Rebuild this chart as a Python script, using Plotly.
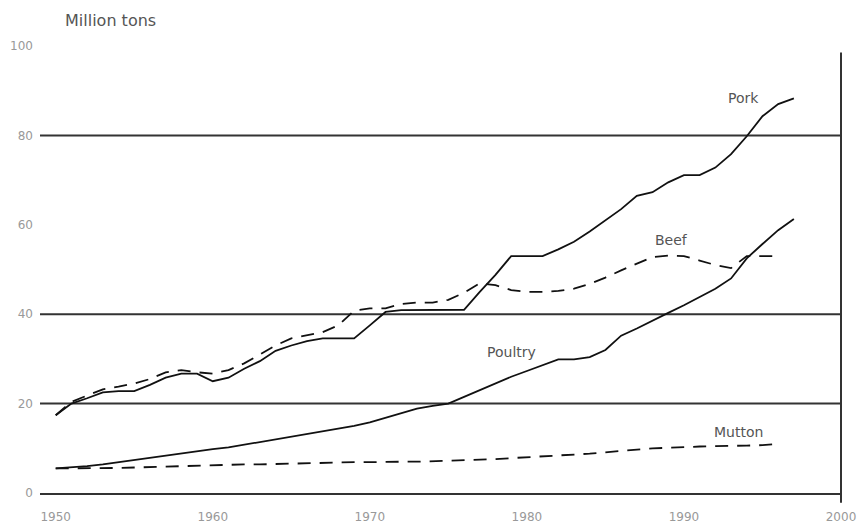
import plotly.graph_objects as go

years = list(range(1950, 1998))
years_short = list(range(1950, 1997))

pork = [17.4, 20.0, 21.2, 22.5, 22.8, 22.8, 24.2, 25.8, 26.7, 26.7,
        25.0, 25.8, 27.8, 29.5, 31.8, 33.0, 34.0, 34.6, 34.6, 34.6,
        37.5, 40.5, 40.9, 40.9, 40.9, 40.9, 41.0, 45.0, 48.8, 53.0,
        53.0, 53.0, 54.5, 56.2, 58.5, 61.0, 63.5, 66.5, 67.3, 69.5,
        71.1, 71.1, 72.8, 75.8, 79.8, 84.3, 87.0, 88.3]

beef = [17.4, 20.4, 21.8, 23.2, 23.8, 24.5, 25.5, 27.0, 27.5, 27.0,
        26.7, 27.5, 29.0, 31.0, 33.0, 34.6, 35.3, 36.0, 37.5, 40.8,
        41.3, 41.3, 42.3, 42.6, 42.6, 43.2, 44.8, 46.9, 46.5, 45.4,
        45.0, 45.0, 45.2, 45.7, 46.8, 48.2, 49.8, 51.3, 52.8, 53.1,
        53.0, 52.0, 51.0, 50.3, 53.0, 53.0, 53.0]

poultry = [5.5, 5.7, 6.0, 6.4, 6.9, 7.4, 7.9, 8.4, 8.9, 9.4,
           9.8, 10.2, 10.8, 11.4, 12.0, 12.5, 13.1, 13.7, 14.3, 15.0,
           15.8, 16.8, 17.8, 18.9, 19.5, 20.0, 21.5, 23.0, 24.5, 26.0,
           27.3, 28.6, 29.9, 29.9, 30.4, 32.0, 35.2, 36.8, 38.6, 40.3,
           42.0, 43.8, 45.7, 48.0, 52.5, 55.7, 58.8, 61.3]

mutton = [5.5, 5.5, 5.5, 5.6, 5.6, 5.7, 5.8, 6.0, 6.1, 6.2,
          6.3, 6.3, 6.4, 6.4, 6.5, 6.5, 6.6, 6.7, 6.8, 6.9,
          6.9, 7.0, 7.0, 7.0, 7.1, 7.2, 7.3, 7.4, 7.6, 7.8,
          8.0, 8.2, 8.3, 8.5, 8.8, 9.1, 9.4, 9.7, 10.0, 10.1,
          10.3, 10.4, 10.5, 10.5, 10.6, 10.7, 11.0]

y_ticks = [0, 20, 40, 60, 80, 100]
y_tick_labels = ["0", "20", "40", "60", "80", "100"]
x_ticks = [1950, 1960, 1970, 1980, 1990, 2000]
x_tick_labels = ["1950", "1960", "1970", "1980", "1990", "2000"]
grid_values = [20, 40, 80]

series_labels = ["Pork", "Beef", "Poultry", "Mutton"]
label_x = [1993.8, 1989.2, 1979.05, 1993.45]
label_y = [88.3, 56.5, 31.5, 13.6]

FONT = "DejaVu Sans"
DASH = "13px,9px"

fig = go.Figure()
fig.add_trace(go.Scatter(x=years, y=pork, mode="lines",
                         line=dict(color="#111111", width=1.8), name="Pork"))
fig.add_trace(go.Scatter(x=years_short, y=beef, mode="lines",
                         line=dict(color="#111111", width=1.8, dash=DASH), name="Beef"))
fig.add_trace(go.Scatter(x=years, y=poultry, mode="lines",
                         line=dict(color="#111111", width=1.8), name="Poultry"))
fig.add_trace(go.Scatter(x=years_short, y=mutton, mode="lines",
                         line=dict(color="#111111", width=1.8, dash=DASH), name="Mutton"))

shapes = []
for g in grid_values:
    shapes.append(dict(type="line", xref="paper", yref="y", x0=0, x1=1, y0=g, y1=g,
                       line=dict(color="#333333", width=2), layer="below"))
shapes.append(dict(type="line", xref="paper", yref="paper", x0=1, x1=1,
                   y0=-0.022, y1=0.9855, line=dict(color="#333333", width=2)))

annotations = []
for t, ax_, ay_ in zip(series_labels, label_x, label_y):
    annotations.append(dict(x=ax_, y=ay_, xref="x", yref="y", text=t, showarrow=False,
                            xanchor="center", yanchor="middle",
                            font=dict(family=FONT, size=14, color="#555555")))
annotations.append(dict(x=0.0886, y=1.057, xref="paper", yref="paper", text="Million tons",
                        showarrow=False, xanchor="center", yanchor="middle",
                        font=dict(family=FONT, size=16, color="#555555")))

# page body has an 8px margin, so the figure is sized to fit the 866x531 window
fig.update_layout(
    width=858, height=523,
    margin=dict(l=32, r=25, t=37.5, b=38, autoexpand=False),
    paper_bgcolor="white", plot_bgcolor="white",
    showlegend=False,
    shapes=shapes, annotations=annotations,
    xaxis=dict(range=[1949, 2000], tickvals=x_ticks, ticktext=x_tick_labels,
               showgrid=False, zeroline=False, showline=True, linecolor="#333333",
               linewidth=2, ticks="", ticklabelstandoff=12, automargin=False,
               tickfont=dict(family=FONT, size=12, color="#999999")),
    yaxis=dict(range=[0, 100], tickvals=y_ticks, ticktext=y_tick_labels,
               showgrid=False, zeroline=False, showline=False, ticks="",
               ticklabelstandoff=6, automargin=False,
               tickfont=dict(family=FONT, size=12, color="#999999")),
)

fig.write_html("out.html")
